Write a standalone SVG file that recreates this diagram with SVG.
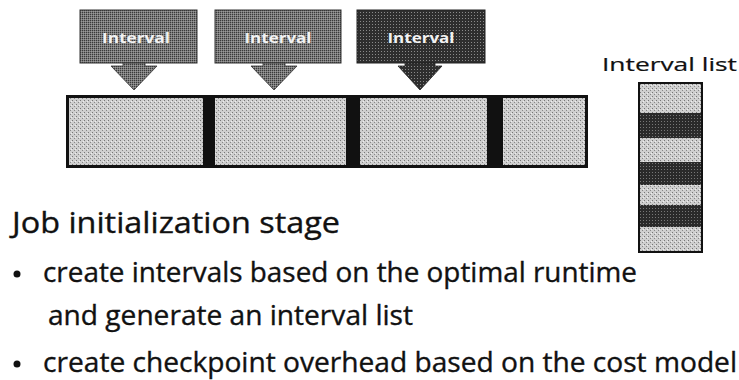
<svg xmlns="http://www.w3.org/2000/svg" width="739" height="380" viewBox="0 0 739 380">
<defs>
<pattern id="dither" width="4" height="4" patternUnits="userSpaceOnUse">
<rect width="4" height="4" fill="#cfcfcf"/>
<rect x="0" y="0" width="1" height="1" fill="#777"/>
<rect x="2" y="2" width="1" height="1" fill="#888"/>
<rect x="3" y="1" width="1" height="1" fill="#eee"/>
</pattern>
<pattern id="ditherMid" width="2" height="2" patternUnits="userSpaceOnUse">
<rect width="2" height="2" fill="#7a7a7a"/>
<rect x="0" y="0" width="1" height="1" fill="#3a3a3a"/>
<rect x="1" y="1" width="1" height="1" fill="#9a9a9a"/>
</pattern>
<pattern id="ditherDark" width="3" height="3" patternUnits="userSpaceOnUse">
<rect width="3" height="3" fill="#2e2e2e"/>
<rect x="0" y="0" width="1" height="1" fill="#8a8a8a"/>
</pattern>
<pattern id="ditherStripe" width="3" height="3" patternUnits="userSpaceOnUse">
<rect width="3" height="3" fill="#2a2a2a"/>
<rect x="1" y="1" width="1" height="1" fill="#777"/>
</pattern>
</defs>
<style>
.callout{fill:url(#ditherMid);stroke:#333;stroke-width:1}
.callout.dark{fill:url(#ditherDark);stroke:#222}
.arrow{fill:url(#ditherMid);stroke:#333;stroke-width:0.8}
.arrow.dark{fill:url(#ditherDark);stroke:#222}
.clabel{font-family:"Open Sans","Liberation Sans",sans-serif;font-size:14px;font-weight:bold;fill:#f2f2f2;text-anchor:middle}
.seg{fill:url(#dither)}
.light{fill:url(#dither)}
.darkstripe{fill:url(#ditherStripe)}
.txt{font-family:"Open Sans","Liberation Sans",sans-serif;fill:#111;stroke:#111;stroke-width:0.35}
</style>
<rect width="739" height="380" fill="#fff"/>

<g id="callout1">
<rect class="callout" x="80" y="10" width="117" height="53"/>
<text class="clabel" x="136" y="43" textLength="68" lengthAdjust="spacingAndGlyphs">Interval</text>
</g>
<g id="callout2">
<rect class="callout" x="215" y="10" width="126" height="53"/>
<text class="clabel" x="278" y="43" textLength="67" lengthAdjust="spacingAndGlyphs">Interval</text>
</g>
<g id="callout3">
<rect class="callout dark" x="357" y="10" width="128" height="53"/>
<text class="clabel" x="421" y="43" textLength="67" lengthAdjust="spacingAndGlyphs">Interval</text>
</g>

<g id="connectors">
<path class="arrow" d="M123,63 H145 V66 H157 L134,90 L111,66 H123 Z"/>
<path class="arrow" d="M263,63 H285 V66 H297 L274,90 L251,66 H263 Z"/>
<path class="arrow dark" d="M405,63 H435 V66 H442 L420,90 L398,66 H405 Z"/>
</g>

<g id="job-bar">
<rect x="66" y="95" width="522" height="73" fill="#111"/>
<rect class="seg" x="69" y="98" width="134" height="67"/>
<rect class="seg" x="215" y="98" width="131" height="67"/>
<rect class="seg" x="360" y="98" width="127" height="67"/>
<rect class="seg" x="503" y="98" width="82" height="67"/>
</g>

<g id="interval-list">
<text class="txt" x="669.5" y="71" font-size="18" text-anchor="middle" textLength="135" lengthAdjust="spacingAndGlyphs" style="stroke-width:0.2">Interval list</text>
<rect x="638" y="82" width="65" height="171" fill="#111"/>
<rect class="light" x="640" y="84" width="61" height="29"/>
<rect class="darkstripe" x="640" y="113" width="61" height="25"/>
<rect class="light" x="640" y="138" width="61" height="24"/>
<rect class="darkstripe" x="640" y="162" width="61" height="23"/>
<rect class="light" x="640" y="185" width="61" height="20"/>
<rect class="darkstripe" x="640" y="205" width="61" height="22"/>
<rect class="light" x="640" y="227" width="61" height="24"/>
</g>

<g id="text">
<text class="txt" x="12" y="233" font-size="29" textLength="328" lengthAdjust="spacingAndGlyphs">Job initialization stage</text>
<circle cx="17" cy="274" r="3.5" fill="#111"/>
<text class="txt" x="43" y="282" font-size="27" textLength="594" lengthAdjust="spacingAndGlyphs">create intervals based on the optimal runtime</text>
<text class="txt" x="48" y="325" font-size="27" textLength="365" lengthAdjust="spacingAndGlyphs">and generate an interval list</text>
<circle cx="17" cy="364" r="3.5" fill="#111"/>
<text class="txt" x="43" y="372" font-size="27" textLength="694" lengthAdjust="spacingAndGlyphs">create checkpoint overhead based on the cost model</text>
</g>
</svg>
